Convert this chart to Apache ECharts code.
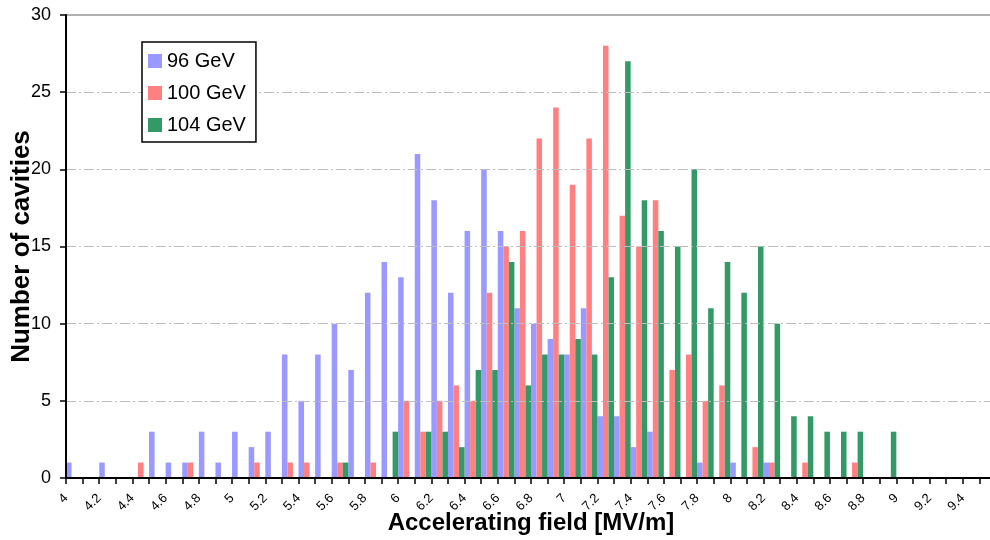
<!DOCTYPE html>
<html>
<head>
<meta charset="utf-8">
<script src="https://cdn.jsdelivr.net/npm/echarts@6/dist/echarts.min.js"></script>
<style>
html,body{margin:0;padding:0;background:#fff;}
#chart{width:990px;height:540px;}
</style>
</head>
<body>
<div id="chart"></div>
<script>
// Bin categories (accelerating field, MV/m)
var categories = ['4.0','4.1','4.2','4.3','4.4','4.5','4.6','4.7','4.8','4.9',
  '5.0','5.1','5.2','5.3','5.4','5.5','5.6','5.7','5.8','5.9',
  '6.0','6.1','6.2','6.3','6.4','6.5','6.6','6.7','6.8','6.9',
  '7.0','7.1','7.2','7.3','7.4','7.5','7.6','7.7','7.8','7.9',
  '8.0','8.1','8.2','8.3','8.4','8.5','8.6','8.7','8.8','8.9',
  '9.0','9.1','9.2','9.3','9.4','9.5'];

var seriesNames = ['96 GeV', '100 GeV', '104 GeV'];

var gev96 = [1,0,1,0,0,3,1,1,3,1,
  3,2,3,8,5,8,10,7,12,14,
  13,21,18,12,16,20,16,11,10,9,
  8,11,4,4,2,3,0,0,1,0,
  1,0,1,0,0,0,0,0,0,0,
  0,0,0,0,0,0];

var gev100 = [0,0,0,0,1,0,0,1,0,0,
  0,1,0,1,1,0,1,0,1,0,
  5,3,5,6,5,12,15,16,22,24,
  19,22,28,17,15,18,7,8,5,6,
  0,2,1,0,1,0,0,1,0,0,
  0,0,0,0,0,0];

var gev104 = [0,0,0,0,0,0,0,0,0,0,
  0,0,0,0,0,0,1,0,0,3,
  0,3,3,2,7,7,14,6,8,8,
  9,8,13,27,18,16,15,20,11,14,
  12,15,10,4,4,3,3,3,0,3,
  0,0,0,0,0,0];

var yTicks = [0, 5, 10, 15, 20, 25, 30];

var colors = ['#9999FF', '#FF8080', '#339966'];

var chart = echarts.init(document.getElementById('chart'), null, {renderer: 'canvas'});

var FONT = 'Liberation Sans, Arial, sans-serif';

var option = {
  animation: false,
  backgroundColor: '#ffffff',
  textStyle: {fontFamily: FONT, color: '#000'},
  grid: {left: 66, top: 15, width: 930, height: 463, outerBoundsMode: 'none', containLabel: false},
  legend: {
    data: seriesNames,
    orient: 'vertical',
    left: 142,
    top: 42,
    z: 20,
    icon: 'rect',
    itemWidth: 14,
    itemHeight: 14,
    itemGap: 12,
    padding: [9, 10, 7, 6],
    backgroundColor: '#ffffff',
    borderColor: '#000',
    borderWidth: 1.5,
    textStyle: {fontSize: 20, color: '#000', fontFamily: FONT}
  },
  xAxis: [
    {
      type: 'category',
      data: categories,
      position: 'bottom',
      axisLine: {show: true, lineStyle: {color: '#000', width: 2}},
      axisTick: {show: true, interval: 0, length: 6, lineStyle: {color: '#000', width: 1.5}},
      axisLabel: {show: false},
      splitLine: {show: false},
      z: 5
    },
    {
      type: 'value',
      min: 4,
      max: 9.6,
      interval: 0.2,
      position: 'bottom',
      axisLine: {show: false},
      axisTick: {show: false},
      splitLine: {show: false},
      axisLabel: {
        rotate: 45,
        fontSize: 13,
        margin: 18,
        color: '#000',
        fontFamily: FONT,
        showMaxLabel: false,
        formatter: function (v) {
          if (v > 9.45) return '';
          return String(Number(v.toFixed(1)));
        }
      },
      name: 'Accelerating field [MV/m]',
      nameLocation: 'middle',
      nameGap: 33,
      nameMoveOverlap: false,
      nameTextStyle: {fontSize: 24, fontWeight: 'bold', color: '#000', fontFamily: FONT, verticalAlign: 'top'}
    },
    {
      type: 'category',
      data: categories,
      position: 'top',
      axisLine: {show: true, lineStyle: {color: '#999', width: 1.5}},
      axisTick: {show: false},
      axisLabel: {show: false},
      splitLine: {show: false}
    }
  ],
  yAxis: {
    type: 'value',
    min: yTicks[0],
    max: yTicks[yTicks.length - 1],
    interval: 5,
    axisLine: {show: true, lineStyle: {color: '#000', width: 2}},
    axisTick: {show: true, length: 6, lineStyle: {color: '#000', width: 1.5}},
    axisLabel: {fontSize: 18, margin: 15, color: '#000', fontFamily: FONT},
    splitLine: {show: true, showMaxLine: false, lineStyle: {color: '#bdbdbd', width: 1.2, type: [10, 3, 2, 3]}},
    name: 'Number of cavities',
    nameLocation: 'middle',
    nameGap: 31,
    nameMoveOverlap: false,
    nameTextStyle: {fontSize: 26, fontWeight: 'bold', color: '#000', fontFamily: FONT},
    z: 5
  },
  series: [
    {name: seriesNames[0], type: 'bar', xAxisIndex: 0, data: gev96, itemStyle: {color: colors[0]}, barGap: '0%', barCategoryGap: '0%'},
    {name: seriesNames[1], type: 'bar', xAxisIndex: 0, data: gev100, itemStyle: {color: colors[1]}, barGap: '0%', barCategoryGap: '0%'},
    {name: seriesNames[2], type: 'bar', xAxisIndex: 0, data: gev104, itemStyle: {color: colors[2]}, barGap: '0%', barCategoryGap: '0%'}
  ]
};

chart.setOption(option);
</script>
</body>
</html>
